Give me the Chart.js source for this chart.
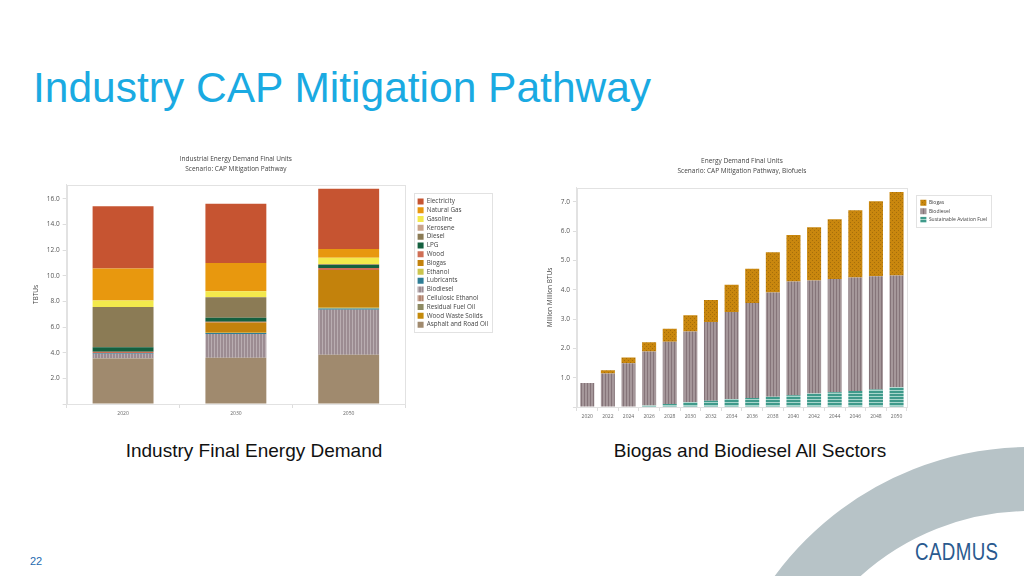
<!DOCTYPE html>
<html>
<head>
<meta charset="utf-8">
<script src="https://cdn.jsdelivr.net/npm/chart.js@4.4.1/dist/chart.umd.min.js"></script>
<style>
  body { margin: 0; width: 1024px; height: 576px; overflow: hidden; background: #fff; position: relative; font-family: "Liberation Sans", Arial, sans-serif; }
  #ring { position: absolute; left: 713px; top: 447px; width: 634px; height: 634px; box-sizing: border-box; border: 64px solid #b7c3c7; border-radius: 50%; }
  #title { position: absolute; left: 33px; top: 67px; font-size: 42.5px; line-height: 1; color: #1aaae2; white-space: nowrap; }
  .caption { position: absolute; top: 441px; font-size: 19px; line-height: 1; color: #111; white-space: nowrap; transform: translateX(-50%); }
  #pageNo { position: absolute; left: 30px; top: 555px; font-size: 11px; color: #1e6bb0; }
  #logo { position: absolute; left: 915px; top: 540px; font-size: 24px; line-height: 1; color: #2a5a8f; letter-spacing: 0.5px; transform: scaleX(0.78); transform-origin: left top; }
  canvas { position: absolute; }
</style>
</head>
<body>
<div id="ring"></div>
<div id="title">Industry CAP Mitigation Pathway</div>
<div class="caption" style="left:254px">Industry Final Energy Demand</div>
<div class="caption" style="left:750px">Biogas and Biodiesel All Sectors</div>
<div id="pageNo">22</div>
<div id="logo">CADMUS</div>

<canvas id="industryChart" width="470" height="275" style="left:28px;top:148px"></canvas>
<canvas id="biofuelChart" width="455" height="276" style="left:542px;top:150px"></canvas>

<script>
// ---- left chart data (TBTUs), listed in legend order ----
let industryYears = ["2020", "2030", "2050"];
let fuelNames = [
  "Electricity", "Natural Gas", "Gasoline", "Kerosene", "Diesel", "LPG", "Wood",
  "Biogas", "Ethanol", "Lubricants", "Biodiesel", "Cellulosic Ethanol",
  "Residual Fuel Oil", "Wood Waste Solids", "Asphalt and Road Oil",
];
let electricity = [4.85, 4.63, 4.7];
let naturalGas = [2.5, 2.19, 0.7];
let gasoline = [0.5, 0.47, 0.5];
let kerosene = [0, 0, 0];
let diesel = [3.15, 1.6, 0.05];
let lpg = [0.35, 0.31, 0.24];
let wood = [0.1, 0.06, 0.16];
let biogas = [0, 0.8, 2.95];
let ethanol = [0, 0.02, 0.05];
let lubricants = [0.05, 0.08, 0.1];
let biodiesel = [0.35, 1.85, 3.5];
let cellulosicEthanol = [0, 0, 0];
let residualFuelOil = [0.02, 0.01, 0];
let woodWasteSolids = [0, 0, 0];
let asphaltRoadOil = [3.55, 3.6, 3.85];

// ---- right chart data (million million BTUs) ----
let biofuelYears = ["2020", "2022", "2024", "2026", "2028", "2030", "2032", "2034",
  "2036", "2038", "2040", "2042", "2044", "2046", "2048", "2050"];
let biogasAll = [0, 0.11, 0.2, 0.32, 0.44, 0.55, 0.75, 0.93, 1.17, 1.37, 1.59, 1.81, 2.04, 2.29, 2.56, 2.85];
let biodieselAll = [0.82, 1.14, 1.49, 1.84, 2.13, 2.42, 2.69, 2.97, 3.24, 3.56, 3.88, 3.86, 3.87, 3.87, 3.86, 3.82];
let safAll = [0, 0, 0, 0.05, 0.1, 0.16, 0.21, 0.27, 0.31, 0.35, 0.4, 0.46, 0.5, 0.55, 0.6, 0.67];

Chart.defaults.font.family = "'Open Sans', sans-serif";
Chart.defaults.color = "#555";

// small repeating fill patterns like the plotly textures
function makePattern(ctx, bg, fg, kind, size) {
  let c = document.createElement("canvas");
  c.width = size;
  c.height = size;
  let g = c.getContext("2d");
  g.fillStyle = bg;
  g.fillRect(0, 0, size, size);
  g.fillStyle = fg;
  if (kind === "v") g.fillRect(0, 0, 1, size);
  else if (kind === "h") g.fillRect(0, 0, size, 1);
  else { g.fillRect(0, 0, 1, 1); g.fillRect(2, 2, 1, 1); }
  return ctx.createPattern(c, "repeat");
}

// light frame around plot area and legend, legend nudged like plotly's
let framePlugin = {
  id: "frame",
  afterLayout(chart, args, opts) {
    let lg = chart.legend;
    lg.left += opts.dx;
    lg.right += opts.dx;
    lg.top += opts.dy;
    lg.bottom += opts.dy;
  },
  beforeDatasetsDraw(chart) {
    let ctx = chart.ctx;
    let a = chart.chartArea;
    ctx.save();
    ctx.strokeStyle = "#e2e2e2";
    ctx.lineWidth = 1;
    ctx.strokeRect(Math.round(a.left) + 0.5, Math.round(a.top) + 0.5,
      Math.round(a.right - a.left), Math.round(a.bottom - a.top));
    ctx.restore();
  },
  afterDraw(chart) {
    let boxes = chart.legend.legendHitBoxes;
    if (!boxes || !boxes.length) return;
    let l = Math.min(...boxes.map(b => b.left)) - 4;
    let t = Math.min(...boxes.map(b => b.top)) - 5;
    let r = Math.max(...boxes.map(b => b.left + b.width)) + 4;
    let btm = Math.max(...boxes.map(b => b.top + b.height)) + 4;
    let ctx = chart.ctx;
    ctx.save();
    ctx.strokeStyle = "#e2e2e2";
    ctx.lineWidth = 1;
    ctx.strokeRect(Math.round(l) + 0.5, Math.round(t) + 0.5, Math.round(r - l), Math.round(btm - t));
    ctx.restore();
  },
};

function axisOptions(max, step, yTitle) {
  return {
    x: {
      stacked: true,
      grid: { display: true, drawOnChartArea: false, tickLength: 4, color: "#ddd" },
      border: { color: "#e2e2e2" },
      ticks: { font: { size: 5 }, color: "#666", padding: 3, maxRotation: 0 },
    },
    y: {
      stacked: true,
      min: 0,
      max: max,
      grid: { display: true, drawOnChartArea: false, tickLength: 4, color: "#ddd" },
      border: { color: "#e2e2e2" },
      ticks: {
        stepSize: step,
        includeBounds: false,
        font: { size: 6.5 },
        color: "#555",
        padding: 3,
        callback: v => (v === 0 ? "" : v.toFixed(1)),
      },
      title: { display: true, text: yTitle, font: { size: 6.5 }, color: "#444", padding: 4 },
    },
  };
}

// ---- left: industry final energy demand ----
let leftCanvas = document.querySelector("#industryChart");
let leftCtx = leftCanvas.getContext("2d");

let fuelSeries = [electricity, naturalGas, gasoline, kerosene, diesel, lpg, wood, biogas,
  ethanol, lubricants, biodiesel, cellulosicEthanol, residualFuelOil, woodWasteSolids, asphaltRoadOil];
let fuelColors = [
  "#c65431", "#e8980e", "#f3e94c", "#c9a48c", "#8b7b55", "#14603f", "#d06f55",
  "#c3820c", "#cbc54e", "#2e7d96",
  makePattern(leftCtx, "#9c8c92", "#b9adb1", "v", 3),
  makePattern(leftCtx, "#b08470", "#c9a493", "v", 3),
  "#8e8b63", "#c48a0a", "#a08a6e",
];

// plotly stacks the first legend entry on top, so feed bottom series first
let industryDatasets = fuelNames.map((name, i) => ({
  label: name,
  data: fuelSeries[i],
  backgroundColor: fuelColors[i],
  barPercentage: 0.54,
  categoryPercentage: 1,
})).reverse();

let industryChart = new Chart(leftCtx, {
  type: "bar",
  data: { labels: industryYears, datasets: industryDatasets },
  options: {
    responsive: false,
    animation: false,
    layout: { padding: { right: 10, bottom: 3 } },
    scales: axisOptions(17.1, 2, "TBTUs"),
    plugins: {
      title: {
        display: true,
        fullSize: false,
        text: ["Industrial Energy Demand Final Units", "Scenario: CAP Mitigation Pathway"],
        font: { size: 6.5, weight: "normal", lineHeight: 1.6 },
        color: "#444",
        padding: { top: 6, bottom: 10 },
      },
      legend: {
        position: "right",
        align: "start",
        fullSize: false,
        reverse: true,
        labels: { boxWidth: 6, boxHeight: 6, padding: 2.5, font: { size: 6.3 }, color: "#444" },
      },
      tooltip: { enabled: false },
      frame: { dx: 10, dy: 11 },
    },
  },
  plugins: [framePlugin],
});

// ---- right: biogas and biodiesel, all sectors ----
let rightCanvas = document.querySelector("#biofuelChart");
let rightCtx = rightCanvas.getContext("2d");

let biofuelChart = new Chart(rightCtx, {
  type: "bar",
  data: {
    labels: biofuelYears,
    datasets: [
      {
        label: "Sustainable Aviation Fuel",
        data: safAll,
        backgroundColor: makePattern(rightCtx, "#3f9a8b", "#a8d6cc", "h", 3),
      },
      {
        label: "Biodiesel",
        data: biodieselAll,
        backgroundColor: makePattern(rightCtx, "#a5979a", "#857479", "v", 3),
      },
      {
        label: "Biogas",
        data: biogasAll,
        backgroundColor: makePattern(rightCtx, "#c9870e", "#a66e0a", "d", 4),
      },
    ].map(ds => Object.assign(ds, { barPercentage: 0.68, categoryPercentage: 1 })),
  },
  options: {
    responsive: false,
    animation: false,
    layout: { padding: { right: 11, bottom: 3 } },
    scales: axisOptions(7.48, 1, "Million Million BTUs"),
    plugins: {
      title: {
        display: true,
        fullSize: false,
        text: ["Energy Demand Final Units", "Scenario: CAP Mitigation Pathway, Biofuels"],
        font: { size: 6.5, weight: "normal", lineHeight: 1.6 },
        color: "#444",
        padding: { top: 6, bottom: 11 },
      },
      legend: {
        position: "right",
        align: "start",
        fullSize: false,
        reverse: true,
        labels: { boxWidth: 6, boxHeight: 6, padding: 2.5, font: { size: 5 }, color: "#444" },
      },
      tooltip: { enabled: false },
      frame: { dx: 11, dy: 9.5 },
    },
  },
  plugins: [framePlugin],
});
</script>
</body>
</html>
